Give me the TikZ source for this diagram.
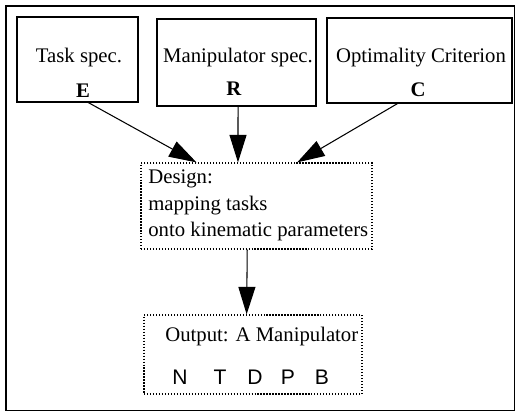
\documentclass[tikz,border=0pt]{standalone}
\usepackage{fontspec}
\setmainfont{Liberation Serif}
\newfontfamily\lettersfont{Liberation Sans}
\usetikzlibrary{arrows.meta,positioning}

\begin{document}
\begin{tikzpicture}[
				x=0.02cm, y=-0.02cm,
				specbox/.style={
					draw,
					line width=0.6pt,
					inner sep=0pt
				},
				dotbox/.style={
					draw,
					densely dotted,
					line width=0.7pt,
					inner sep=0pt
				},
				label/.style={
					inner sep=0pt,
					font=\fontsize{11.8}{14}\selectfont
				},
				letter/.style={
					inner sep=0pt,
					anchor=base,
					font=\lettersfont\fontsize{12}{14}\selectfont
				},
				edge/.style={
					-{Triangle[length=5.5mm,width=3.4mm]},
					line width=0.6pt
				}
				]
				\useasboundingbox (0,0) rectangle (515,412);
				\draw[line width=0.7pt] (6,6) rectangle (514.5,410.5);
				
				% input boxes
				\node[specbox, minimum width=121*0.02cm, minimum height=85*0.02cm] (task) at (77.5,59.5) {};
				\node[specbox, minimum width=159*0.02cm, minimum height=87*0.02cm] (manip) at (236.5,62.5) {};
				\node[specbox, minimum width=185*0.02cm, minimum height=85*0.02cm] (crit) at (419.5,60.5) {};
				
				\node[label] (tasktext) at (79,58) {Task spec.};
				\node[label] (tasksym) at (83,91) {\textbf{E}};
				\node[label] (maniptext) at (238,58) {Manipulator spec.};
				\node[label] (manipsym) at (234,89) {\textbf{R}};
				\node[label] (crittext) at (421,58) {Optimality Criterion};
				\node[label] (critsym) at (418,90) {\textbf{C}};
				
				% design box
				\node[dotbox, minimum width=231*0.02cm, minimum height=86*0.02cm] (design) at (256.5,206) {};
				\node[label, anchor=base west] (d1) at (148,184) {Design:};
				\node[label, anchor=base west] (d2) at (148,211) {mapping tasks};
				\node[label, anchor=base west] (d3) at (148,237) {onto kinematic parameters};
				
				% output box
				\node[dotbox, minimum width=218*0.02cm, minimum height=79*0.02cm] (output) at (253,354.5) {};
				\node[label, anchor=base west] (outtext) at (165,342) {Output: A Manipulator};
				\node[letter] (n) at (180,385) {N};
				\node[letter] (t) at (220,385) {T};
				\node[letter] (d) at (255,385) {D};
				\node[letter] (p) at (288,385) {P};
				\node[letter] (b) at (322,385) {B};
				
				\draw[edge] (task.-76) -- (design.144);
				\draw[edge] (manip.-88) -- (design.113);
				\draw[edge] (crit.-117) -- (design.47);
				\draw[edge] (design.-102) -- (output.99);
			\end{tikzpicture}
\end{document}
